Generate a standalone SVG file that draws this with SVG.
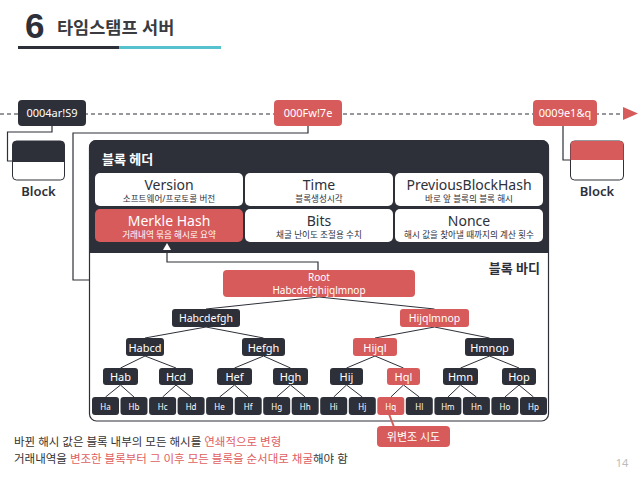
<svg xmlns="http://www.w3.org/2000/svg" width="638" height="479" viewBox="0 0 638 479">
<style>
.f{font-family:"Noto Sans","Noto Sans CJK KR",sans-serif}
.dk{fill:#2e3039}
.rd{fill:#d75b5b}
.wt{fill:#fff}
.ln{fill:none;stroke:#2e3039;stroke-width:1.2}
.tl{fill:none;stroke:#2e3039;stroke-width:1}
.c{text-anchor:middle}
.cell{fill:#fff}
.ttl{font-size:14px}
.sub{font-size:8.6px}
</style>
<rect width="638" height="479" fill="#fff"/>
<g id="title">
<text x="25" y="38" font-family="Liberation Sans,Arial,sans-serif" font-weight="bold" font-size="35" fill="#2e3039">6</text>
<text class="f" x="57" y="34" font-size="17.5" font-weight="bold" fill="#3a3b40">타임스탬프 서버</text>
<rect x="18" y="46" width="101" height="3" fill="#2e3039"/>
<rect x="119" y="46" width="102" height="3" fill="#56c2cd"/>
</g>
<g id="block-body">
<rect x="89.5" y="140.5" width="459" height="280.5" rx="7" fill="#fff" stroke="#2e3039" stroke-width="1.2"/>
<text class="f" x="540" y="273" font-size="13" font-weight="bold" fill="#2e3039" text-anchor="end">블록 바디</text>
</g>
<g id="block-header">
<path d="M89,253V147a7,7 0 0 1 7,-7h446a7,7 0 0 1 7,7V253Z" class="dk"/>
<text class="f wt" x="102" y="164" font-size="13" font-weight="bold">블록 헤더</text>
</g>
<g id="connectors">
<line x1="0" y1="114" x2="626" y2="114" stroke="#2e3039" stroke-width="1" stroke-dasharray="4,3"/>
<polygon points="623,107 638,113.5 623,120" fill="#d75b5b"/>
<polyline class="ln" points="52,126 52,132 7.5,132 7.5,161 12,161"/>
<polyline class="ln" points="563,126 563,160 570,160"/>
<polyline class="ln" points="308,126 308,133 73,133 73,280 89,280"/>
<polyline class="ln" points="167,253 167,262 318,262 318,270"/>
<polygon points="163,250 171,250 167,243" fill="#fff"/>
<g class="tl">
<path d="M319,297L206,309M319,297L434.5,309"/>
<path d="M206,327L145,338M206,327L263.5,338M434.5,327L375,338M434.5,327L489.5,338"/>
<path d="M145,356L120.5,368M145,356L176,368M263.5,356L234.5,368M263.5,356L290.5,368M375,356L346.5,368M375,356L403.5,368M489.5,356L460.5,368M489.5,356L519,368"/>
<path d="M120.5,385L105.5,397M120.5,385L134,397M176,385L162.6,397M176,385L191.1,397M234.5,385L219.6,397M234.5,385L248.2,397M290.5,385L276.7,397M290.5,385L305.2,397M346.5,385L333.7,397M346.5,385L362.3,397M403.5,385L390.8,397M403.5,385L419.3,397M460.5,385L447.9,397M460.5,385L476.4,397M519,385L504.9,397M519,385L533.5,397"/>
</g>
<line x1="389" y1="414" x2="394" y2="427" stroke="#d75b5b" stroke-width="2"/>
</g>
<g id="n-0004">
<rect x="18" y="100" width="68" height="26" rx="4" class="dk"/>
<text class="f c wt" x="52" y="117" font-size="11">0004ar!S9</text>
</g>
<g id="n-000F">
<rect x="274" y="100" width="68" height="26" rx="4" class="rd"/>
<text class="f c wt" x="308" y="117" font-size="11">000Fw!7e</text>
</g>
<g id="n-0009">
<rect x="533" y="100" width="64" height="26" rx="4" class="rd"/>
<text class="f c wt" x="565" y="117" font-size="11">0009e1&amp;q</text>
</g>
<g id="block-left">
<rect x="12.5" y="141" width="52" height="39" rx="4" fill="#fff" stroke="#2e3039" stroke-width="1"/>
<path d="M12.5,162V145a4,4 0 0 1 4,-4h44a4,4 0 0 1 4,4V162Z" class="dk"/>
<text class="f c" x="38.5" y="196" font-size="13" font-weight="600" fill="#2e3039">Block</text>
</g>
<g id="block-right">
<rect x="570.5" y="141" width="53" height="39" rx="4" fill="#fff" stroke="#2e3039" stroke-width="1"/>
<path d="M570.5,160V145a4,4 0 0 1 4,-4h45a4,4 0 0 1 4,4V160Z" class="rd"/>
<text class="f c" x="597" y="196" font-size="13" font-weight="600" fill="#2e3039">Block</text>
</g>
<g id="h-version">
<rect x="95" y="173" width="148" height="33" rx="5" class="cell"/>
<text class="f c ttl" x="169" y="190" fill="#2e3039">Version</text>
<text class="f c sub" x="169" y="202" fill="#2e3039">소프트웨어/프로토콜 버전</text>
</g>
<g id="h-time">
<rect x="245" y="173" width="148" height="33" rx="5" class="cell"/>
<text class="f c ttl" x="319" y="190" fill="#2e3039">Time</text>
<text class="f c sub" x="319" y="202" fill="#2e3039">블록생성시각</text>
</g>
<g id="h-prev">
<rect x="395" y="173" width="148" height="33" rx="5" class="cell"/>
<text class="f c ttl" x="469" y="190" fill="#2e3039">PreviousBlockHash</text>
<text class="f c sub" x="469" y="202" fill="#2e3039">바로 앞 블록의 블록 해시</text>
</g>
<g id="h-merkle">
<rect x="95" y="209" width="148" height="33" rx="5" class="rd"/>
<text class="f c ttl wt" x="169" y="226">Merkle Hash</text>
<text class="f c sub wt" x="169" y="238">거래내역 묶음 해시로 요약</text>
</g>
<g id="h-bits">
<rect x="245" y="209" width="148" height="33" rx="5" class="cell"/>
<text class="f c ttl" x="319" y="226" fill="#2e3039">Bits</text>
<text class="f c sub" x="319" y="238" fill="#2e3039">채굴 난이도 조절용 수치</text>
</g>
<g id="h-nonce">
<rect x="395" y="209" width="148" height="33" rx="5" class="cell"/>
<text class="f c ttl" x="469" y="226" fill="#2e3039">Nonce</text>
<text class="f c sub" x="469" y="238" fill="#2e3039">해시 값을 찾아낼 때까지의 계산 횟수</text>
</g>
<g id="root">
<rect x="223" y="270" width="192" height="27" rx="4" class="rd"/>
<text class="f c wt" x="319" y="281" font-size="10">Root</text>
<text class="f c wt" x="319" y="294" font-size="10">Habcdefghijqlmnop</text>
</g>
<g id="habcdefgh"><rect x="172" y="309" width="68" height="18" rx="3" class="dk"/><text class="f c wt" x="206" y="322" font-size="10.5">Habcdefgh</text></g>
<g id="hijqlmnop"><rect x="400" y="309" width="69" height="18" rx="3" class="rd"/><text class="f c wt" x="434.5" y="322" font-size="10.5">Hijqlmnop</text></g>
<g id="habcd"><rect x="126" y="338" width="38" height="18" rx="3" class="dk"/><text class="f c wt" x="145" y="351.5" font-size="11">Habcd</text></g>
<g id="hefgh"><rect x="242" y="338" width="43" height="18" rx="3" class="dk"/><text class="f c wt" x="263.5" y="351.5" font-size="11">Hefgh</text></g>
<g id="hijql"><rect x="353" y="338" width="44" height="18" rx="3" class="rd"/><text class="f c wt" x="375" y="351.5" font-size="11">Hijql</text></g>
<g id="hmnop"><rect x="465" y="338" width="49" height="18" rx="3" class="dk"/><text class="f c wt" x="489.5" y="351.5" font-size="11">Hmnop</text></g>
<g id="hab"><rect x="103" y="368" width="35" height="17" rx="3" class="dk"/><text class="f c wt" x="120.5" y="381" font-size="11">Hab</text></g>
<g id="hcd"><rect x="159" y="368" width="34" height="17" rx="3" class="dk"/><text class="f c wt" x="176" y="381" font-size="11">Hcd</text></g>
<g id="hef"><rect x="217" y="368" width="35" height="17" rx="3" class="dk"/><text class="f c wt" x="234.5" y="381" font-size="11">Hef</text></g>
<g id="hgh"><rect x="273" y="368" width="35" height="17" rx="3" class="dk"/><text class="f c wt" x="290.5" y="381" font-size="11">Hgh</text></g>
<g id="hij"><rect x="330" y="368" width="33" height="17" rx="3" class="dk"/><text class="f c wt" x="346.5" y="381" font-size="11">Hij</text></g>
<g id="hql"><rect x="387" y="368" width="33" height="17" rx="3" class="rd"/><text class="f c wt" x="403.5" y="381" font-size="11">Hql</text></g>
<g id="hmn"><rect x="443" y="368" width="35" height="17" rx="3" class="dk"/><text class="f c wt" x="460.5" y="381" font-size="11">Hmn</text></g>
<g id="hop"><rect x="502" y="368" width="34" height="17" rx="3" class="dk"/><text class="f c wt" x="519" y="381" font-size="11">Hop</text></g>
<g id="ha"><rect x="92" y="397" width="27" height="18" rx="3" class="dk"/><text class="f c wt" x="105.5" y="409.5" font-size="8">Ha</text></g>
<g id="hb"><rect x="120.5" y="397" width="27" height="18" rx="3" class="dk"/><text class="f c wt" x="134" y="409.5" font-size="8">Hb</text></g>
<g id="hc"><rect x="149.1" y="397" width="27" height="18" rx="3" class="dk"/><text class="f c wt" x="162.6" y="409.5" font-size="8">Hc</text></g>
<g id="hd"><rect x="177.6" y="397" width="27" height="18" rx="3" class="dk"/><text class="f c wt" x="191.1" y="409.5" font-size="8">Hd</text></g>
<g id="he"><rect x="206.1" y="397" width="27" height="18" rx="3" class="dk"/><text class="f c wt" x="219.6" y="409.5" font-size="8">He</text></g>
<g id="hf"><rect x="234.7" y="397" width="27" height="18" rx="3" class="dk"/><text class="f c wt" x="248.2" y="409.5" font-size="8">Hf</text></g>
<g id="hg"><rect x="263.2" y="397" width="27" height="18" rx="3" class="dk"/><text class="f c wt" x="276.7" y="409.5" font-size="8">Hg</text></g>
<g id="hh"><rect x="291.7" y="397" width="27" height="18" rx="3" class="dk"/><text class="f c wt" x="305.2" y="409.5" font-size="8">Hh</text></g>
<g id="hi"><rect x="320.2" y="397" width="27" height="18" rx="3" class="dk"/><text class="f c wt" x="333.7" y="409.5" font-size="8">Hi</text></g>
<g id="hj"><rect x="348.8" y="397" width="27" height="18" rx="3" class="dk"/><text class="f c wt" x="362.3" y="409.5" font-size="8">Hj</text></g>
<g id="hq"><rect x="377.3" y="397" width="27" height="18" rx="3" class="rd"/><text class="f c wt" x="390.8" y="409.5" font-size="8">Hq</text></g>
<g id="hl"><rect x="405.8" y="397" width="27" height="18" rx="3" class="dk"/><text class="f c wt" x="419.3" y="409.5" font-size="8">Hl</text></g>
<g id="hm"><rect x="434.4" y="397" width="27" height="18" rx="3" class="dk"/><text class="f c wt" x="447.9" y="409.5" font-size="8">Hm</text></g>
<g id="hn"><rect x="462.9" y="397" width="27" height="18" rx="3" class="dk"/><text class="f c wt" x="476.4" y="409.5" font-size="8">Hn</text></g>
<g id="ho"><rect x="491.4" y="397" width="27" height="18" rx="3" class="dk"/><text class="f c wt" x="504.9" y="409.5" font-size="8">Ho</text></g>
<g id="hp"><rect x="520" y="397" width="27" height="18" rx="3" class="dk"/><text class="f c wt" x="533.5" y="409.5" font-size="8">Hp</text></g>
<g id="tamper">
<rect x="377" y="426" width="73" height="21" rx="4" class="rd"/>
<text class="f c wt" x="413.5" y="440.5" font-size="11">위변조 시도</text>
</g>
<g id="notes">
<text class="f" x="14" y="446" font-size="11.5" fill="#333">바뀐 해시 값은 블록 내부의 모든 해시를 <tspan fill="#e0605f">연쇄적으로 변형</tspan></text>
<text class="f" x="14" y="463" font-size="11.5" fill="#333">거래내역을 <tspan fill="#e0605f">변조한 블록부터 그 이후 모든 블록을 순서대로 채굴</tspan>해야 함</text>
<text class="f c" x="622" y="467" font-size="11" fill="#bbb">14</text>
</g>
</svg>
